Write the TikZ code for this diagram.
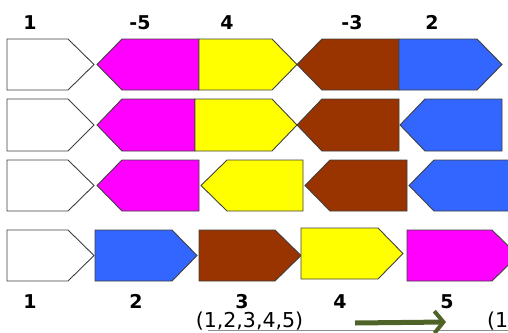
\documentclass[tikz,border=0pt]{standalone}
\usepackage{fontspec}
\setmainfont{DejaVu Sans}
\usetikzlibrary{arrows.meta}
\definecolor{cmag}{HTML}{FF00FF}
\definecolor{cyel}{HTML}{FFFF00}
\definecolor{cbrn}{HTML}{993300}
\definecolor{cblu}{HTML}{3366FF}
\definecolor{cgrn}{HTML}{4F6228}
\newcommand\shpR[6]{\filldraw[shp,fill=#6] (#1,#4) -- (#2,#4) -- (#3,{(#4+#5)/2}) -- (#2,#5) -- (#1,#5) -- cycle;}
\newcommand\shpL[6]{\filldraw[shp,fill=#6] (#1,{(#4+#5)/2}) -- (#2,#4) -- (#3,#4) -- (#3,#5) -- (#2,#5) -- cycle;}
\tikzset{
  shp/.style={draw=black!75,line width=0.9pt,line join=miter},
  lbl/.style={font=\fontsize{19}{19}\selectfont\bfseries,anchor=base,inner sep=0pt},
  seq/.style={font=\fontsize{20.5}{20.5}\selectfont,anchor=base,inner sep=0pt},
}
\begin{document}
\begin{tikzpicture}[x=1pt,y=-1pt]
\useasboundingbox (0,0) rectangle (508,332);
\clip (0,0) rectangle (508,332);
% row 1
\shpR{7}{68}{94}{39}{90}{white}
\shpL{97}{122}{199}{39}{90}{cmag}
\shpR{199}{272}{297}{39}{90}{cyel}
\shpL{297}{322}{399}{39}{90}{cbrn}
\shpR{399}{477}{502}{39}{90}{cblu}
% row 2
\shpR{7}{68}{94}{99}{151}{white}
\shpL{97}{122}{195}{99}{151}{cmag}
\shpR{195}{272}{297}{99}{151}{cyel}
\shpL{297}{322}{399}{99}{151}{cbrn}
\shpL{400}{425}{502}{99}{151}{cblu}
% row 3
\shpR{7}{68}{94}{160}{211}{white}
\shpL{97}{122}{199}{160}{211}{cmag}
\shpL{201}{227}{303}{160}{211}{cyel}
\shpL{305}{330}{407}{160}{211}{cbrn}
\shpL{409}{434}{520}{160}{211}{cblu}
% row 4
\shpR{7}{68}{94}{230}{281}{white}
\shpR{95}{172}{197}{230}{281}{cblu}
\shpR{199}{275}{301}{230}{281}{cbrn}
\shpR{301}{378}{403}{228}{279}{cyel}
\shpR{407}{492}{518}{230}{281}{cmag}
% top labels
\node[lbl] (t1) at (30,29) {1};
\node[lbl] (t2) at (140,29) {-5};
\node[lbl] (t3) at (227,29) {4};
\node[lbl] (t4) at (352,29) {-3};
\node[lbl] (t5) at (432,29) {2};
% bottom labels
\node[lbl] (b1) at (30,308) {1};
\node[lbl] (b2) at (136,308) {2};
\node[lbl] (b3) at (242,308) {3};
\node[lbl] (b4) at (340,308) {4};
\node[lbl] (b5) at (447,308) {5};
% bottom line
\draw[black!45,line width=1.5pt] (208,330.5) -- (508,330.5);
\node[seq] (s1) at (249.5,327.5) {(1,2,3,4,5)};
\node[seq,anchor=base west] (s2) at (487,327.5) {(1};
\coordinate (a1) at (355,323);
\coordinate (a2) at (446,322);
\draw[cgrn,line width=5pt,-{Straight Barb[length=9pt,width=22pt,line width=4pt]}] (a1) -- (a2);
\end{tikzpicture}
\end{document}
